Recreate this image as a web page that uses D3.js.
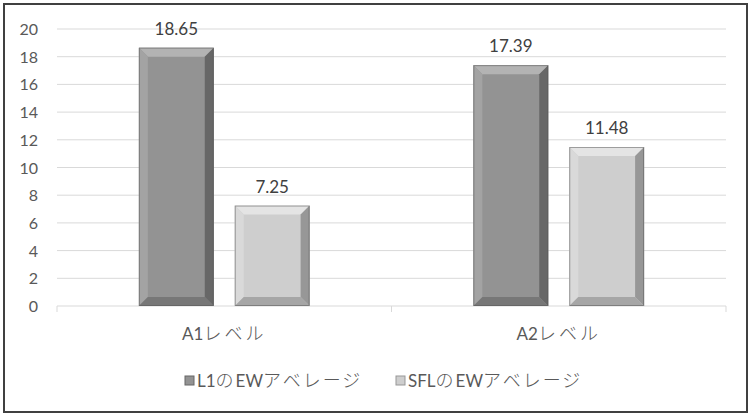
<!DOCTYPE html>
<html>
<head>
<meta charset="utf-8">
<script src="https://cdn.jsdelivr.net/npm/d3@7"></script>
<style>
  body { margin: 0; background: #fff; }
  text { font-family: Lato, "Noto Sans CJK JP", sans-serif; }
  .jp { font-family: "Noto Sans CJK JP", sans-serif; font-weight: 300; }
</style>
</head>
<body>
<div id="chart"></div>
<script>
var categories = ["A1レベル", "A2レベル"];
var seriesNames = ["L1のEWアベレージ", "SFLのEWアベレージ"];
var l1Values = [18.65, 17.39];
var sflValues = [7.25, 11.48];
var yTicks = [0, 2, 4, 6, 8, 10, 12, 14, 16, 18, 20];

var w = 750, h = 416;
var plotLeft = 57, plotRight = 726, plotTop = 29, plotBottom = 306;

var colors = [
  { base: "#939393", top: "#b3b3b3", left: "#a3a3a3", right: "#676767", bottom: "#777777" },
  { base: "#cecece", top: "#e4e4e4", left: "#d9d9d9", right: "#979797", bottom: "#a6a6a6" }
];

var svg = d3.select("#chart").append("svg")
  .attr("width", w).attr("height", h);

// outer frame
svg.append("rect")
  .attr("x", 4).attr("y", 4).attr("width", 743).attr("height", 408)
  .attr("fill", "#fff").attr("stroke", "#404040").attr("stroke-width", 2);

var y = d3.scaleLinear().domain([0, 20]).range([plotBottom, plotTop]);
var x0 = d3.scaleBand().domain(categories).range([plotLeft, plotRight]);
var x1 = d3.scaleBand().domain([0, 1]).range([0, x0.bandwidth()])
  .paddingInner(0.219).paddingOuter(0.854);

// split latin / japanese runs so each gets its own font
function mixedText(sel, str, latinSize, jpSize, jpSpacing) {
  var parts = str.match(/[A-Za-z0-9.]+|[^A-Za-z0-9.]+/g);
  parts.forEach(function(p){
    var isLatin = /^[A-Za-z0-9.]+$/.test(p);
    var t = sel.append("tspan").text(p);
    if (isLatin) {
      t.attr("font-size", latinSize);
    } else {
      t.attr("class", "jp").attr("font-size", jpSize).attr("letter-spacing", jpSpacing);
    }
  });
}

// gridlines
svg.append("g").selectAll("line")
  .data(yTicks.filter(function(d){ return d > 0; }))
  .enter().append("line")
  .attr("x1", plotLeft).attr("x2", plotRight)
  .attr("y1", function(d){ return y(d); })
  .attr("y2", function(d){ return y(d); })
  .attr("stroke", "#d9d9d9").attr("stroke-width", 1);

// y labels
svg.append("g").selectAll("text")
  .data(yTicks).enter().append("text")
  .attr("x", 38).attr("y", function(d){ return y(d) + 6; })
  .attr("text-anchor", "end")
  .attr("font-size", 16).attr("fill", "#595959")
  .text(function(d){ return d; });

// x axis
svg.append("line")
  .attr("x1", plotLeft).attr("x2", plotRight)
  .attr("y1", plotBottom).attr("y2", plotBottom)
  .attr("stroke", "#d9d9d9");
svg.append("g").selectAll("line")
  .data([plotLeft, plotLeft + x0.step(), plotRight])
  .enter().append("line")
  .attr("x1", function(d){ return d; }).attr("x2", function(d){ return d; })
  .attr("y1", plotBottom).attr("y2", plotBottom + 6)
  .attr("stroke", "#d9d9d9");

svg.append("g").selectAll("text")
  .data(categories).enter().append("text")
  .attr("x", function(d){ return x0(d) + x0.bandwidth() / 2; })
  .attr("y", 340)
  .attr("text-anchor", "middle")
  .attr("fill", "#595959")
  .each(function(d){ mixedText(d3.select(this), d, 17, 18, 3); });

// bars
var bars = [];
categories.forEach(function(c, i){
  [l1Values[i], sflValues[i]].forEach(function(v, s){
    bars.push({ cat: c, s: s, v: v });
  });
});

var b = 9;
var g = svg.append("g").selectAll("g.bar")
  .data(bars).enter().append("g").attr("class", "bar");

g.each(function(d){
  var gx = x0(d.cat) + x1(d.s);
  var bw = x1.bandwidth();
  var ty = y(d.v);
  var by = y(0);
  var c = colors[d.s];
  var sel = d3.select(this);
  sel.append("rect")
    .attr("x", gx).attr("y", ty).attr("width", bw).attr("height", by - ty)
    .attr("fill", c.base);
  var poly = function(pts, fill){
    sel.append("polygon")
      .attr("points", pts.map(function(p){ return p.join(","); }).join(" "))
      .attr("fill", fill);
  };
  poly([[gx, ty], [gx + bw, ty], [gx + bw - b, ty + b], [gx + b, ty + b]], c.top);
  poly([[gx, ty], [gx + b, ty + b], [gx + b, by - b], [gx, by]], c.left);
  poly([[gx + bw, ty], [gx + bw, by], [gx + bw - b, by - b], [gx + bw - b, ty + b]], c.right);
  poly([[gx, by], [gx + b, by - b], [gx + bw - b, by - b], [gx + bw, by]], c.bottom);
  sel.append("rect")
    .attr("x", gx + 0.5).attr("y", ty + 0.5).attr("width", bw - 1).attr("height", by - ty - 1)
    .attr("fill", "none").attr("stroke", "#555").attr("stroke-width", 1).attr("stroke-opacity", 0.5);
  sel.append("text")
    .attr("x", gx + bw / 2).attr("y", ty - 13)
    .attr("text-anchor", "middle")
    .attr("font-size", 17).attr("fill", "#404040")
    .text(d.v.toFixed(2));
});

// legend
var legendX = [185, 396];
var lg = svg.append("g").selectAll("g.leg")
  .data(seriesNames).enter().append("g")
  .attr("transform", function(d, i){ return "translate(" + legendX[i] + ",376)"; });
lg.append("rect")
  .attr("width", 9).attr("height", 9)
  .attr("fill", function(d, i){ return colors[i].base; })
  .attr("stroke", function(d, i){ return colors[i].right; });
lg.append("text")
  .attr("x", 12).attr("y", 11)
  .attr("fill", "#595959")
  .each(function(d){ mixedText(d3.select(this), d, 17, 18, 2); });
</script>
</body>
</html>
